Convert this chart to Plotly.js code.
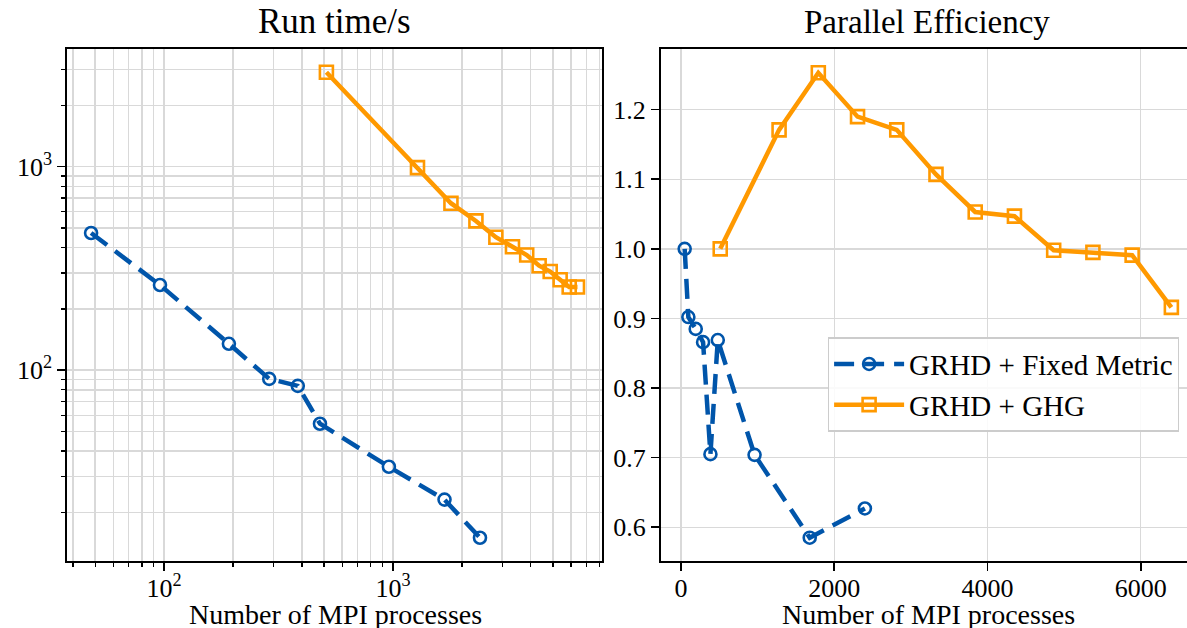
<!DOCTYPE html>
<html>
<head>
<meta charset="utf-8">
<script src="https://cdn.plot.ly/plotly-3.0.1.min.js"></script>
<style>html,body{margin:0;padding:0;background:#fff;}#chart{width:1187px;height:628px;}</style>
</head>
<body>
<div id="chart"></div>
<script>
// ---- data ----
const procsFixed = [48, 96, 192, 288, 384, 480, 960, 1680, 2400];
const timeFixed  = [472, 262, 134.7, 90.6, 83.7, 54.5, 33.5, 23.1, 15.0];
const effFixed   = [1.0, 0.902, 0.885, 0.866, 0.705, 0.869, 0.704, 0.585, 0.627];

const procsGHG = [512, 1280, 1792, 2304, 2816, 3328, 3840, 4352, 4864, 5376, 5888, 6400];
const timeGHG  = [2909, 989, 661, 541, 450, 404, 368, 326, 305, 278, 256, 256];
const effGHG   = [1.0, 1.171, 1.253, 1.190, 1.171, 1.107, 1.053, 1.047, 0.998, 0.995, 0.991, 0.916];

const seriesNames = ['GRHD + Fixed Metric', 'GRHD + GHG'];
const panelTitles = ['Run time/s', 'Parallel Efficiency'];
const xLabel = 'Number of MPI processes';

const logMajorX = [100, 1000];
const logMajorXText = ['10<sup>2</sup>', '10<sup>3</sup>'];
const logMinorX = [40,50,60,70,80,90,200,300,400,500,600,700,800,900,2000,3000,4000,5000,6000,7000,8000];
const logMajorY = [100, 1000];
const logMajorYText = ['10<sup>2</sup>', '10<sup>3</sup>'];
const logMinorY = [20,30,40,50,60,70,80,90,200,300,400,500,600,700,800,900,2000,3000];
const linTicksX = [0, 2000, 4000, 6000];
const linTicksY = [0.6, 0.7, 0.8, 0.9, 1.0, 1.1, 1.2];

// ---- style ----
const BLUE = '#0055aa';
const ORANGE = '#ff9900';
const FONT = '"Liberation Serif", "Times New Roman", serif';
const GRID = '#d9d9d9';
const W = 1187, H = 628;

const blueLine = {color: BLUE, width: 4.5, dash: '20px,10px'};
const orangeLine = {color: ORANGE, width: 4.5};
const blueMarker = {symbol: 'circle-open', size: 12, color: BLUE, line: {color: BLUE, width: 2.6}};
const orangeMarker = {symbol: 'square-open', size: 13, color: ORANGE, line: {color: ORANGE, width: 2.6}};

const traces = [
  {x: procsFixed, y: timeFixed, xaxis: 'x', yaxis: 'y', mode: 'lines+markers', line: blueLine, marker: blueMarker, showlegend: false, name: seriesNames[0]},
  {x: procsGHG, y: timeGHG, xaxis: 'x', yaxis: 'y', mode: 'lines+markers', line: orangeLine, marker: orangeMarker, showlegend: false, name: seriesNames[1]},
  {x: procsFixed, y: effFixed, xaxis: 'x2', yaxis: 'y2', mode: 'lines+markers', line: blueLine, marker: blueMarker, name: seriesNames[0]},
  {x: procsGHG, y: effGHG, xaxis: 'x2', yaxis: 'y2', mode: 'lines+markers', line: orangeLine, marker: orangeMarker, name: seriesNames[1]}
];

const tickFont = {family: FONT, size: 26, color: '#000'};
const common = {
  showline: true, linecolor: '#000', linewidth: 1.8,
  ticks: 'outside', ticklen: 8, tickwidth: 1.6, tickcolor: '#000',
  showgrid: true, gridcolor: GRID, gridwidth: 1.4,
  zeroline: false, tickfont: tickFont, fixedrange: true
};

const px2x = p => p / W;
const px2y = p => (H - p) / H;

const layout = {
  width: W, height: H,
  margin: {l: 0, r: 0, t: 0, b: 0},
  paper_bgcolor: '#fff', plot_bgcolor: '#fff',
  font: {family: FONT, color: '#000'},
  xaxis: Object.assign({}, common, {
    type: 'log', domain: [px2x(67), px2x(601.7)], range: [1.576, 3.912], anchor: 'y',
    mirror: true, tickmode: 'array', tickvals: logMajorX, ticktext: logMajorXText,
    ticklabelstandoff: -5,
    minor: {tickmode: 'array', tickvals: logMinorX, ticks: 'outside', ticklen: 4.5, tickwidth: 1.3, tickcolor: '#000', showgrid: true, gridcolor: GRID, gridwidth: 1.4}
  }),
  yaxis: Object.assign({}, common, {
    type: 'log', domain: [px2y(561), px2y(49)], range: [1.062, 3.578], anchor: 'x',
    mirror: true, tickmode: 'array', tickvals: logMajorY, ticktext: logMajorYText,
    minor: {tickmode: 'array', tickvals: logMinorY, ticks: 'outside', ticklen: 4.5, tickwidth: 1.3, tickcolor: '#000', showgrid: true, gridcolor: GRID, gridwidth: 1.4}
  }),
  xaxis2: Object.assign({}, common, {
    domain: [px2x(660.7), 1], range: [-265, 6604], anchor: 'y2',
    mirror: true, tickmode: 'array', tickvals: linTicksX,
    ticklabelstandoff: -5
  }),
  yaxis2: Object.assign({}, common, {
    domain: [px2y(561), px2y(49)], range: [0.5515, 1.2872], anchor: 'x2',
    mirror: false, tickmode: 'array', tickvals: linTicksY,
    ticktext: linTicksY.map(v => v.toFixed(1))
  }),
  legend: {
    x: px2x(1179.5), xanchor: 'right', y: px2y(337), yanchor: 'top',
    bgcolor: 'rgba(255,255,255,0.85)', bordercolor: '#cccccc', borderwidth: 1.6,
    font: {family: FONT, size: 29, color: '#000'}, itemwidth: 70, tracegroupgap: 0
  },
  annotations: [
    {text: panelTitles[0], xref: 'paper', yref: 'paper', x: px2x(334.3), y: px2y(22), xanchor: 'center', yanchor: 'middle', showarrow: false, font: {family: FONT, size: 35, color: '#000'}},
    {text: panelTitles[1], xref: 'paper', yref: 'paper', x: px2x(927.3), y: px2y(22), xanchor: 'center', yanchor: 'middle', showarrow: false, font: {family: FONT, size: 33, color: '#000'}},
    {text: xLabel, xref: 'paper', yref: 'paper', x: px2x(335), y: px2y(614), xanchor: 'center', yanchor: 'middle', showarrow: false, font: {family: FONT, size: 28, color: '#000'}},
    {text: xLabel, xref: 'paper', yref: 'paper', x: px2x(928), y: px2y(614), xanchor: 'center', yanchor: 'middle', showarrow: false, font: {family: FONT, size: 28, color: '#000'}}
  ]
};

Plotly.newPlot('chart', traces, layout, {staticPlot: true, displayModeBar: false});
</script>
</body>
</html>
